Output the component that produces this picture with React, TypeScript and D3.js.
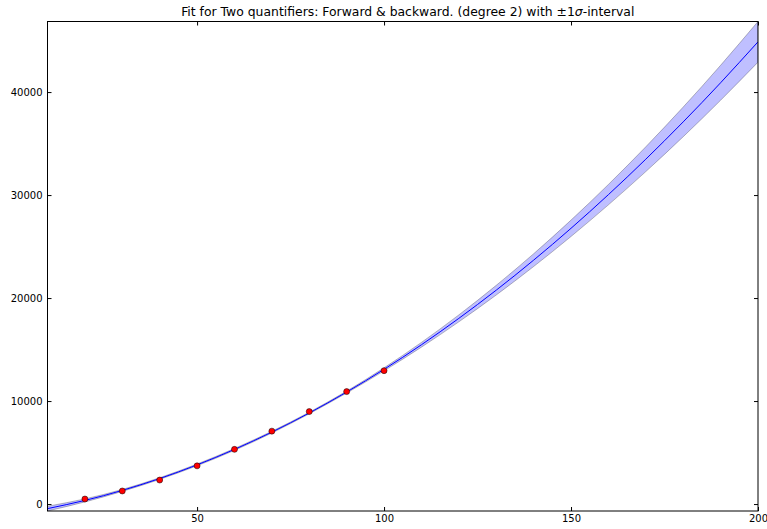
import React, { useEffect, useRef } from "react";
import * as d3 from "d3";

// measured points (red markers)
const pointX = [20, 30, 40, 50, 60, 70, 80, 90, 100];
const pointY = [490, 1270, 2330, 3710, 5310, 7080, 8980, 10920, 12950];

const fitX = [10, 20, 30, 40, 50, 60, 70, 80, 90, 100, 110, 120, 130, 140, 150, 160, 170, 180, 190, 200];
const fitY = [-444, 353, 1326, 2476, 3802, 5305, 6984, 8840, 10872, 13081, 15466, 18028, 20766, 23681, 26772, 30040, 33484, 37105, 40902, 44876];
// half width of the +-1 sigma band at the same x positions
const fitSigma = [230, 147, 95, 81, 87, 91, 87, 81, 95, 147, 230, 338, 469, 621, 795, 990, 1205, 1441, 1698, 1975];

const xTicks = [50, 100, 150, 200];
const yTicks = [0, 10000, 20000, 30000, 40000];

const title = "Fit for Two quantifiers: Forward & backward. (degree 2) with ";

const width = 767;
const height = 529;
const marginTop = 21.5;
const marginRight = 9;
const marginBottom = 18;
const marginLeft = 47.5;

export default function App() {
    const ref = useRef<SVGSVGElement>(null);

    useEffect(() => {
        if (!ref.current) return;
        const svg = d3.select(ref.current);
        svg.selectAll("*").remove();

        const fit = fitX.map((x, i) => ({
            x,
            y: fitY[i],
            lo: fitY[i] - fitSigma[i],
            hi: fitY[i] + fitSigma[i],
        }));

        const x = d3
            .scaleLinear()
            .domain([10, 200])
            .range([marginLeft, width - marginRight]);

        // autoscale tight to the band, like matplotlib classic
        const y = d3
            .scaleLinear()
            .domain([d3.min(fit, (d) => d.lo)!, d3.max(fit, (d) => d.hi)!])
            .range([height - marginBottom, marginTop]);

        const plot = svg.append("g");

        plot.append("defs")
            .append("clipPath")
            .attr("id", "clip")
            .append("rect")
            .attr("x", marginLeft)
            .attr("y", marginTop)
            .attr("width", width - marginRight - marginLeft)
            .attr("height", height - marginBottom - marginTop);

        const inner = plot.append("g").attr("clip-path", "url(#clip)");

        const band = d3
            .area<any>()
            .x((d) => x(d.x))
            .y0((d) => y(d.lo))
            .y1((d) => y(d.hi))
            .curve(d3.curveNatural);

        inner.append("path")
            .datum(fit)
            .attr("d", band)
            .attr("fill", "#0000ff")
            .attr("fill-opacity", 0.25)
            .attr("stroke", "#000")
            .attr("stroke-opacity", 0.25)
            .attr("stroke-width", 1);

        const line = d3
            .line<any>()
            .x((d) => x(d.x))
            .y((d) => y(d.y))
            .curve(d3.curveNatural);

        inner.append("path")
            .datum(fit)
            .attr("d", line)
            .attr("fill", "none")
            .attr("stroke", "#0000ff")
            .attr("stroke-width", 1);

        inner.append("g")
            .selectAll("circle")
            .data(pointX)
            .join("circle")
            .attr("cx", (d) => x(d))
            .attr("cy", (d, i) => y(pointY[i]))
            .attr("r", 3)
            .attr("fill", "#ff0000")
            .attr("stroke", "#000")
            .attr("stroke-width", 0.5);

        const font = (g: any) =>
            g.attr("font-family", "DejaVu Sans").attr("font-size", 10);

        // ticks point inward on all four sides
        svg.append("g")
            .attr("transform", `translate(0,${height - marginBottom})`)
            .call(d3.axisBottom(x).tickValues(xTicks).tickSize(-4).tickPadding(4))
            .call(font)
            .call((g) => g.select(".domain").remove());

        svg.append("g")
            .attr("transform", `translate(0,${marginTop})`)
            .call(d3.axisTop(x).tickValues(xTicks).tickSize(-4).tickFormat(() => ""))
            .call((g) => g.select(".domain").remove());

        svg.append("g")
            .attr("transform", `translate(${marginLeft},0)`)
            .call(d3.axisLeft(y).tickValues(yTicks).tickSize(-4).tickPadding(5).tickFormat(d3.format("d")))
            .call(font)
            .call((g) => g.select(".domain").remove());

        svg.append("g")
            .attr("transform", `translate(${width - marginRight},0)`)
            .call(d3.axisRight(y).tickValues(yTicks).tickSize(-4).tickFormat(() => ""))
            .call((g) => g.select(".domain").remove());

        svg.selectAll(".tick line").attr("stroke", "#000");
        svg.selectAll(".tick text").attr("fill", "#000");

        svg.append("rect")
            .attr("x", marginLeft)
            .attr("y", marginTop)
            .attr("width", width - marginRight - marginLeft)
            .attr("height", height - marginBottom - marginTop)
            .attr("fill", "none")
            .attr("stroke", "#000")
            .attr("stroke-width", 1);

        const t = svg.append("text")
            .attr("x", (marginLeft + width - marginRight) / 2 + 5)
            .attr("y", 16)
            .attr("text-anchor", "middle")
            .attr("font-family", "DejaVu Sans")
            .attr("font-size", 12.4)
            .attr("fill", "#000");
        t.append("tspan").text(title);
        t.append("tspan").text("\u00b11");
        t.append("tspan").attr("font-style", "italic").text("\u03c3");
        t.append("tspan").text("-interval");
    }, []);

    return (
        <>
            <style>{"body{margin:0}"}</style>
            <svg
                ref={ref}
                width={width}
                height={height}
                viewBox={`0 0 ${width} ${height}`}
                style={{ display: "block", background: "#fff" }}
            />
        </>
    );
}
